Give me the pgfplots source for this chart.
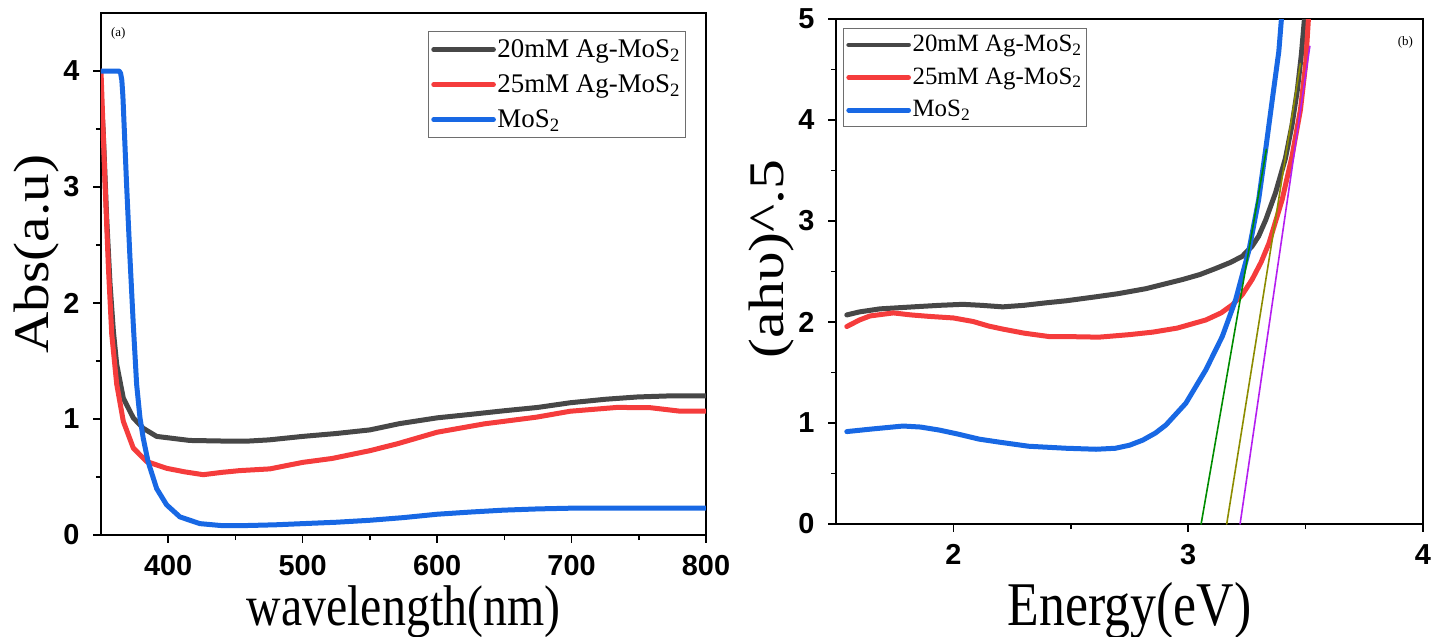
\documentclass[border=0pt]{standalone}
\usepackage{pgfplots}
\pgfplotsset{compat=1.18}
\usepackage{fontspec}
\setmainfont{Liberation Serif}
\newfontfamily\tickfont{Liberation Sans}
\definecolor{cgray}{RGB}{71,71,71}
\definecolor{cred}{RGB}{245,60,60}
\definecolor{cblue}{RGB}{24,104,228}
\definecolor{cgreen}{RGB}{0,140,0}
\definecolor{colive}{RGB}{140,140,0}
\definecolor{cpurple}{RGB}{180,30,240}
\definecolor{legframe}{RGB}{110,110,110}
\begin{document}
\begin{tikzpicture}
\path[use as bounding box] (-50.5bp,-51bp) rectangle (666.5bp,267.5bp);
\pgfplotsset{
  mystyle/.style={
    scale only axis,
    axis line style={line width=0.9bp, black},
    tick align=outside,
    xtick pos=bottom, ytick pos=left,
    major tick length=3.8bp, minor tick length=2.5bp,
    every tick/.style={line width=0.8bp, black},
    minor tick num=1,
    /pgf/number format/assume math mode=true,
    ticklabel style={font=\tickfont\bfseries\fontsize{14.5}{14.5}\selectfont},
    yticklabel style={xshift=-3.5bp},
    xticklabel style={yshift=-3bp},
    legend cell align=left,
    legend image code/.code={\draw[##1, line width=2.3bp] (0bp,0bp) -- (30bp,0bp);},
    every axis plot/.append style={line join=round, line cap=round},
  }
}
% ---------------- (a)
\begin{axis}[mystyle,
  at={(0bp,0bp)}, anchor=south west,
  width=302.5bp, height=261bp,
  xmin=350, xmax=800, ymin=0, ymax=4.5,
  xtick={400,500,600,700,800}, ytick={0,1,2,3,4},
  xlabel={\scalebox{1}[1.2]{wavelength(nm)}},
  xlabel style={font=\fontsize{24}{24}\selectfont, at={(axis description cs:0.5,0)}, anchor=base, yshift=-45bp},
  ylabel={\scalebox{1.15}[1]{Abs(a.u)}},
  ylabel style={font=\fontsize{25}{25}\selectfont, at={(axis description cs:0,0.538)}, anchor=center, yshift=32bp},
  legend style={at={(axis description cs:0.9665,0.9655)}, anchor=north east,
    draw=legframe, line width=0.6bp,
    font=\fontsize{13.5}{13.5}\selectfont,
    nodes={inner sep=0.8bp}, row sep=5.5bp, inner xsep=1.5bp, inner ysep=3bp},
]
\addplot[cgray, line width=2.5bp] coordinates {
(350,3.80)(351.7,3.47)(354.2,2.74)(356.7,2.17)(359.2,1.76)(361.7,1.47)(366.6,1.18)(374,1.01)(381.4,0.92)(391.4,0.85)(416,0.815)(440.8,0.81)(460,0.81)(475,0.82)(500,0.85)(525,0.875)(550,0.906)(572,0.96)(600,1.01)(625,1.04)(649,1.07)(675,1.10)(699,1.14)(725,1.17)(749,1.19)(775,1.20)(800,1.20)};
\addlegendentry{20mM Ag-MoS\textsubscript{2}}
\addplot[cred, line width=2.5bp] coordinates {
(350,4.0)(353,3.03)(355.5,2.31)(358,1.73)(361.7,1.30)(366.6,0.98)(374,0.75)(384,0.633)(398.8,0.575)(412,0.545)(426,0.52)(440,0.54)(453,0.555)(475.6,0.57)(500,0.626)(522,0.66)(550,0.727)(570,0.785)(600,0.886)(635,0.958)(674,1.016)(699,1.067)(734,1.10)(759,1.097)(781,1.067)(800,1.067)};
\addlegendentry{25mM Ag-MoS\textsubscript{2}}
\addplot[cblue, line width=2.5bp] coordinates {
(350,4.0)(355,4.0)(360,4.0)(363.5,4.0)(364.6,3.98)(365.5,3.92)(366.3,3.78)(367.5,3.45)(369,3.03)(371.5,2.40)(374,1.82)(376.5,1.30)(379,1.01)(381.4,0.835)(385,0.633)(391.4,0.40)(398.8,0.26)(408.7,0.156)(423.6,0.098)(440.8,0.08)(460,0.082)(480,0.088)(500,0.098)(525,0.11)(550,0.127)(575,0.15)(600,0.179)(625,0.198)(649,0.214)(675,0.225)(699,0.231)(750,0.232)(800,0.232)};
\addlegendentry{MoS\textsubscript{2}}
\node[anchor=north west, font=\fontsize{6.5}{6.5}\selectfont] at (axis description cs:0.005,0.985) {(a)};
\end{axis}
% ---------------- (b)
\begin{axis}[mystyle,
  at={(367.5bp,5.5bp)}, anchor=south west,
  width=293.5bp, height=252.5bp,
  xmin=1.5, xmax=4, ymin=0, ymax=5,
  xtick={2,3,4}, ytick={0,1,2,3,4,5},
  xlabel={\scalebox{1}[1.2]{Energy(eV)}},
  xlabel style={font=\fontsize{26}{26}\selectfont, at={(axis description cs:0.5,0)}, anchor=base, yshift=-50.8bp},
  ylabel={\scalebox{1.2}[1]{(ahυ)\^{}.5}},
  ylabel style={font=\fontsize{25}{25}\selectfont, at={(axis description cs:0,0.525)}, anchor=center, yshift=32bp},
  legend style={at={(axis description cs:0.0115,0.9825)}, anchor=north west,
    draw=legframe, line width=0.6bp,
    font=\fontsize{12.5}{12.5}\selectfont,
    nodes={inner sep=0.8bp}, row sep=5bp, inner xsep=1.5bp, inner ysep=2.5bp},
]
\addplot[cgray, line width=2.5bp] coordinates {
(1.546,2.07)(1.60,2.10)(1.687,2.13)(1.829,2.15)(1.94,2.165)(2.04,2.175)(2.12,2.165)(2.21,2.15)(2.30,2.165)(2.395,2.19)(2.48,2.21)(2.608,2.25)(2.70,2.28)(2.82,2.33)(2.975,2.42)(3.05,2.47)(3.117,2.53)(3.18,2.59)(3.23,2.65)(3.272,2.75)(3.30,2.85)(3.33,3.01)(3.372,3.28)(3.414,3.62)(3.442,3.95)(3.465,4.30)(3.482,4.65)(3.495,5.0)(3.50,5.2)};
\addlegendentry{20mM Ag-MoS\textsubscript{2}}
\addplot[cred, line width=2.5bp] coordinates {
(1.546,1.955)(1.60,2.02)(1.645,2.06)(1.744,2.09)(1.82,2.07)(1.90,2.055)(2.00,2.04)(2.084,2.005)(2.15,1.96)(2.21,1.93)(2.30,1.89)(2.41,1.855)(2.50,1.855)(2.62,1.85)(2.75,1.875)(2.85,1.90)(2.954,1.94)(3.075,2.02)(3.14,2.09)(3.188,2.17)(3.23,2.27)(3.272,2.42)(3.31,2.59)(3.344,2.78)(3.40,3.21)(3.442,3.64)(3.478,4.10)(3.50,4.55)(3.512,5.0)(3.515,5.2)};
\addlegendentry{25mM Ag-MoS\textsubscript{2}}
\addplot[cblue, line width=2.5bp] coordinates {
(1.546,0.915)(1.65,0.94)(1.786,0.97)(1.86,0.96)(1.94,0.93)(2.02,0.89)(2.11,0.84)(2.197,0.81)(2.32,0.77)(2.48,0.75)(2.608,0.74)(2.69,0.75)(2.75,0.78)(2.806,0.83)(2.86,0.90)(2.905,0.98)(2.99,1.196)(3.075,1.526)(3.145,1.856)(3.202,2.22)(3.259,2.715)(3.30,3.21)(3.33,3.71)(3.358,4.20)(3.386,4.68)(3.397,5.0)(3.40,5.2)};
\addlegendentry{MoS\textsubscript{2}}
\addplot[cgreen, line width=0.8bp, forget plot] coordinates {(3.055,0)(3.333,3.71)};
\addplot[colive, line width=0.8bp, forget plot] coordinates {(3.164,0)(3.478,4.56)};
\addplot[cpurple, line width=0.8bp, forget plot] coordinates {(3.221,0)(3.518,4.73)};
\node[anchor=north east, font=\fontsize{6.5}{6.5}\selectfont] at (axis description cs:0.995,0.98) {(b)};
\end{axis}
\end{tikzpicture}
\end{document}
